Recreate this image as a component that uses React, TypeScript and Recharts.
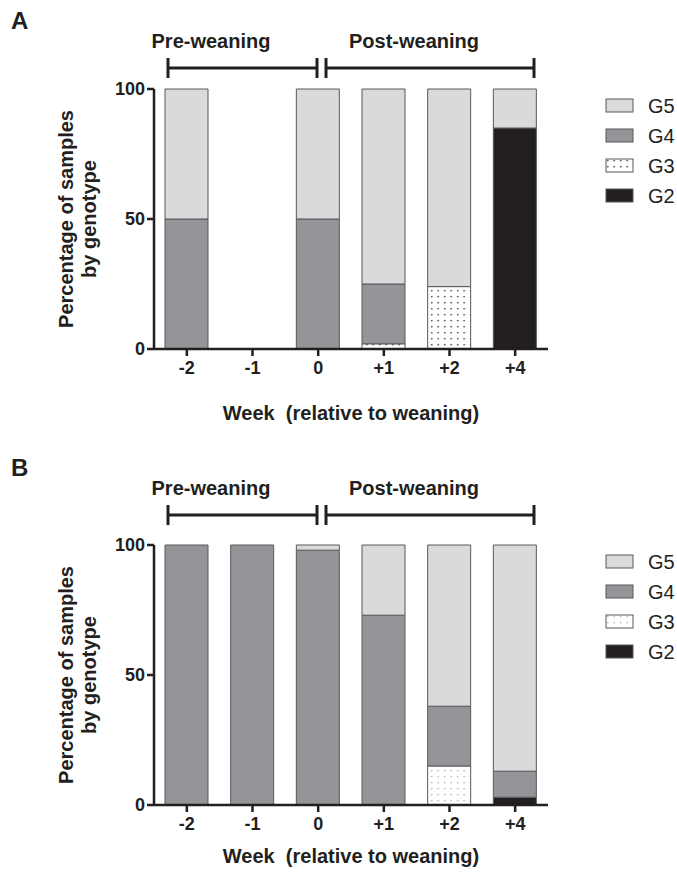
import React from "react";
import { BarChart, Bar, XAxis, YAxis } from "recharts";

const weeks = ["-2", "-1", "0", "+1", "+2", "+4"];
const genotypes = ["G5", "G4", "G3", "G2"];

// panel A
const g5A = [50, 0, 50, 75, 76, 15];
const g4A = [50, 0, 50, 23, 0, 0];
const g3A = [0, 0, 0, 2, 24, 0];
const g2A = [0, 0, 0, 0, 0, 85];

// panel B
const g5B = [0, 0, 2, 27, 62, 87];
const g4B = [100, 100, 98, 73, 23, 10];
const g3B = [0, 0, 0, 0, 15, 0];
const g2B = [0, 0, 0, 0, 0, 3];

const yTicks = [0, 50, 100];

const FONT = "'Liberation Sans', Arial, Helvetica, sans-serif";
const INK = "#231f20";
const EDGE = "#58595b";

function buildRows(g5: number[], g4: number[], g3: number[], g2: number[]) {
    return weeks.map((week, i) => ({
        week,
        G5: g5[i],
        G4: g4[i],
        G3: g3[i],
        G2: g2[i],
    }));
}

function fillFor(name: string, dots: string) {
    if (name === "G5") return "#d9dadb";
    if (name === "G4") return "#939598";
    if (name === "G3") return `url(#${dots})`;
    return INK;
}

function LegendBox({ dots }: { dots: string }) {
    return (
        <div
            style={{
                position: "absolute",
                left: 605,
                top: 91,
                fontFamily: FONT,
            }}
        >
            {genotypes.map((g) => (
                <div
                    key={g}
                    style={{
                        display: "flex",
                        alignItems: "center",
                        height: 30,
                    }}
                >
                    <svg width={30} height={16}>
                        <rect
                            x={1}
                            y={1}
                            width={27}
                            height={13}
                            fill={fillFor(g, dots)}
                            stroke={EDGE}
                            strokeWidth={1}
                        />
                    </svg>
                    <span
                        style={{
                            marginLeft: 13,
                            fontSize: 20,
                            color: INK,
                        }}
                    >
                        {g}
                    </span>
                </div>
            ))}
        </div>
    );
}

function Panel({
    letter,
    top,
    rows,
    dots,
    labelY,
    shift,
}: {
    letter: string;
    top: number;
    rows: any[];
    dots: string;
    labelY: number;
    shift: number;
}) {
    const tickStyle = {
        fill: INK,
        fontSize: 18,
        fontWeight: 700,
        fontFamily: FONT,
    };
    const by = 68 + shift;
    return (
        <div
            style={{
                position: "absolute",
                left: 0,
                top,
                width: 677,
                height: 440,
            }}
        >
            <BarChart
                width={677}
                height={440}
                data={rows}
                margin={{ top: 89, right: 129, left: 0, bottom: 31 }}
                barSize={43}
            >
                <XAxis
                    dataKey="week"
                    height={60}
                    tick={tickStyle}
                    tickSize={7}
                    tickMargin={5}
                    axisLine={{ stroke: INK, strokeWidth: 2.5 }}
                    tickLine={{ stroke: INK, strokeWidth: 2.5 }}
                />
                <YAxis
                    width={154}
                    domain={[0, 100]}
                    ticks={yTicks}
                    tick={tickStyle}
                    tickSize={7}
                    tickMargin={2}
                    axisLine={{ stroke: INK, strokeWidth: 2.5 }}
                    tickLine={{ stroke: INK, strokeWidth: 2.5 }}
                />
                {["G2", "G3", "G4", "G5"].map((g) => (
                    <Bar
                        key={g}
                        dataKey={g}
                        stackId="s"
                        fill={fillFor(g, dots)}
                        stroke={EDGE}
                        strokeWidth={1}
                        isAnimationActive={false}
                    />
                ))}
            </BarChart>
            <LegendBox dots={dots} />
            <svg
                width={677}
                height={440}
                style={{
                    position: "absolute",
                    left: 0,
                    top: 0,
                    pointerEvents: "none",
                    fontFamily: FONT,
                    overflow: "visible",
                }}
            >
                <text x={11} y={31 + shift - 2} fontSize={24} fontWeight={700} fill={INK}>
                    {letter}
                </text>
                <text x={211} y={48 + shift} fontSize={20} fontWeight={700} fill={INK} textAnchor="middle">
                    Pre-weaning
                </text>
                <text x={414} y={48 + shift} fontSize={20} fontWeight={700} fill={INK} textAnchor="middle">
                    Post-weaning
                </text>
                <g stroke={INK} strokeWidth={3}>
                    <line x1={168} y1={by} x2={317} y2={by} />
                    <line x1={326} y1={by} x2={534} y2={by} />
                    <line x1={168} y1={by - 10} x2={168} y2={by + 10} />
                    <line x1={317} y1={by - 10} x2={317} y2={by + 10} />
                    <line x1={326} y1={by - 10} x2={326} y2={by + 10} />
                    <line x1={534} y1={by - 10} x2={534} y2={by + 10} />
                </g>
                <g transform="translate(0,219) rotate(-90)" fontSize={20} fontWeight={700} fill={INK} textAnchor="middle">
                    <text x={0} y={73}>Percentage of samples</text>
                    <text x={0} y={96}>by genotype</text>
                </g>
                <text
                    x={351}
                    y={labelY}
                    fontSize={20}
                    fontWeight={700}
                    fill={INK}
                    textAnchor="middle"
                    style={{ whiteSpace: "pre" }}
                >
                    Week  (relative to weaning)
                </text>
            </svg>
        </div>
    );
}

export default function App() {
    return (
        <div
            style={{
                position: "absolute",
                left: 0,
                top: 0,
                width: 677,
                height: 876,
                overflow: "hidden",
                background: "#fff",
            }}
        >
            <svg width={0} height={0} style={{ position: "absolute" }}>
                <defs>
                    <pattern id="dotsA" width={6.5} height={6} patternUnits="userSpaceOnUse">
                        <rect width={6.5} height={6} fill="#fff" />
                        <rect x={2} y={2} width={1.4} height={1.4} fill="#3a3a3a" />
                    </pattern>
                    <pattern id="dotsB" width={6.5} height={6} patternUnits="userSpaceOnUse">
                        <rect width={6.5} height={6} fill="#fff" />
                        <rect x={2} y={2} width={1.3} height={1.3} fill="#a7a9ac" />
                    </pattern>
                </defs>
            </svg>
            <Panel letter="B" top={456} rows={buildRows(g5B, g4B, g3B, g2B)} dots="dotsB" labelY={407} shift={-9} />
            <Panel letter="A" top={0} rows={buildRows(g5A, g4A, g3A, g2A)} dots="dotsA" labelY={420} shift={0} />
        </div>
    );
}
